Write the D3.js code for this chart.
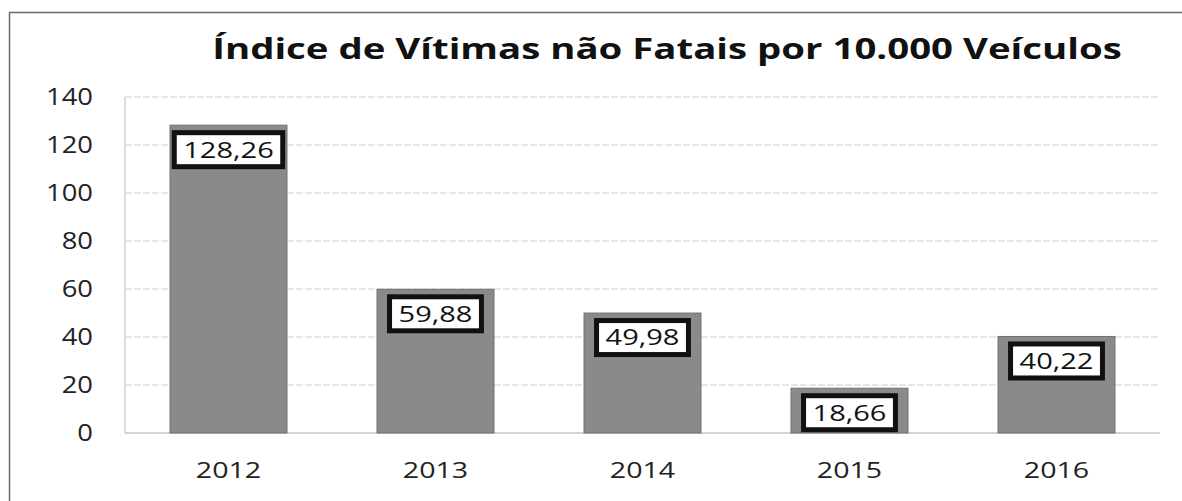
<!DOCTYPE html>
<html lang="pt">
<head>
<meta charset="UTF-8">
<title>Índice de Vítimas não Fatais por 10.000 Veículos</title>
<script src="https://d3js.org/d3.v7.min.js"></script>
<style>
  body { margin: 0; background: #fff; }
  text { font-family: "Open Sans", "DejaVu Sans", sans-serif; }
</style>
</head>
<body>
<svg id="chart" width="1182" height="501"></svg>
<script>
// Data
const years = ["2012", "2013", "2014", "2015", "2016"];
const values = [128.26, 59.88, 49.98, 18.66, 40.22];
const yTicks = [0, 20, 40, 60, 80, 100, 120, 140];
const title = "Índice de Vítimas não Fatais por 10.000 Veículos";

const width = 1182, height = 501;
const margin = {top: 97, right: 22, bottom: 68, left: 125};
const plotW = width - margin.left - margin.right;
const plotH = height - margin.top - margin.bottom;

const svg = d3.select("#chart");

// outer frame
svg.append("path")
    .attr("d", `M9.5,${height} L9.5,12.5 L${width},12.5`)
    .attr("fill", "none")
    .attr("stroke", "#6a6a6a")
    .attr("stroke-width", 1.5);

// title (source image is stretched horizontally)
svg.append("text")
    .attr("text-anchor", "middle")
    .attr("font-size", 28)
    .attr("font-weight", "bold")
    .attr("fill", "#111")
    .attr("transform", "translate(667,59) scale(1.37,1)")
    .text(title);

const g = svg.append("g").attr("transform", `translate(${margin.left},${margin.top})`);

const x = d3.scaleBand().domain(years).range([0, plotW])
    .paddingInner(0.435).paddingOuter(0.2175);
const y = d3.scaleLinear().domain([0, 140]).range([plotH, 0]);

// gridlines
g.selectAll(".grid").data(yTicks).join("line")
    .attr("x1", 0).attr("x2", plotW)
    .attr("y1", d => y(d)).attr("y2", d => y(d))
    .attr("stroke", d => d === 0 ? "#aaa" : "#cfcfcf")
    .attr("stroke-width", 1.2)
    .attr("stroke-dasharray", d => d === 0 ? null : "7,2");

// left axis line of plot
g.append("line")
    .attr("x1", 0).attr("x2", 0).attr("y1", 0).attr("y2", plotH)
    .attr("stroke", "#c8c8c8").attr("stroke-width", 1.2);

// y axis labels
const yAxis = g.append("g").call(d3.axisLeft(y).tickValues(yTicks).tickSize(0));
yAxis.select(".domain").remove();
yAxis.selectAll("text")
    .attr("x", 0)
    .attr("font-size", 23).attr("fill", "#222")
    .attr("transform", "translate(-32,0) scale(1.19,1)");

// x axis labels
const xAxis = g.append("g").attr("transform", `translate(0,${plotH})`)
    .call(d3.axisBottom(x).tickSize(0));
xAxis.select(".domain").remove();
xAxis.selectAll("text")
    .attr("y", 0).attr("dy", 0)
    .attr("font-size", 22).attr("fill", "#222")
    .attr("transform", "translate(0,45) scale(1.3,1)");

// bars
const data = years.map((yr, i) => ({year: yr, value: values[i]}));
g.selectAll(".bar").data(data).join("rect")
    .attr("x", d => x(d.year))
    .attr("y", d => y(d.value))
    .attr("width", x.bandwidth())
    .attr("height", d => plotH - y(d.value))
    .attr("fill", "#8a8a8a")
    .attr("stroke", "#707070")
    .attr("stroke-width", 1);

// value labels
const fmt = v => v.toFixed(2).replace(".", ",");
const lab = g.selectAll(".lab").data(data).join("g")
    .attr("transform", d => `translate(${x(d.year) + x.bandwidth() / 2},${y(d.value) + 24.5})`);
lab.each(function(d) {
    const s = d3.select(this);
    const t = s.append("text")
        .attr("text-anchor", "middle")
        .attr("dy", "0.36em")
        .attr("font-size", 22)
        .attr("fill", "#111")
        .attr("transform", "scale(1.32,1)")
        .text(fmt(d.value));
    const w = t.node().getComputedTextLength() * 1.32 + 18;
    s.insert("rect", "text")
        .attr("x", -w / 2).attr("y", -17)
        .attr("width", w).attr("height", 34)
        .attr("fill", "#fff")
        .attr("stroke", "#111")
        .attr("stroke-width", 5);
});
</script>
</body>
</html>
